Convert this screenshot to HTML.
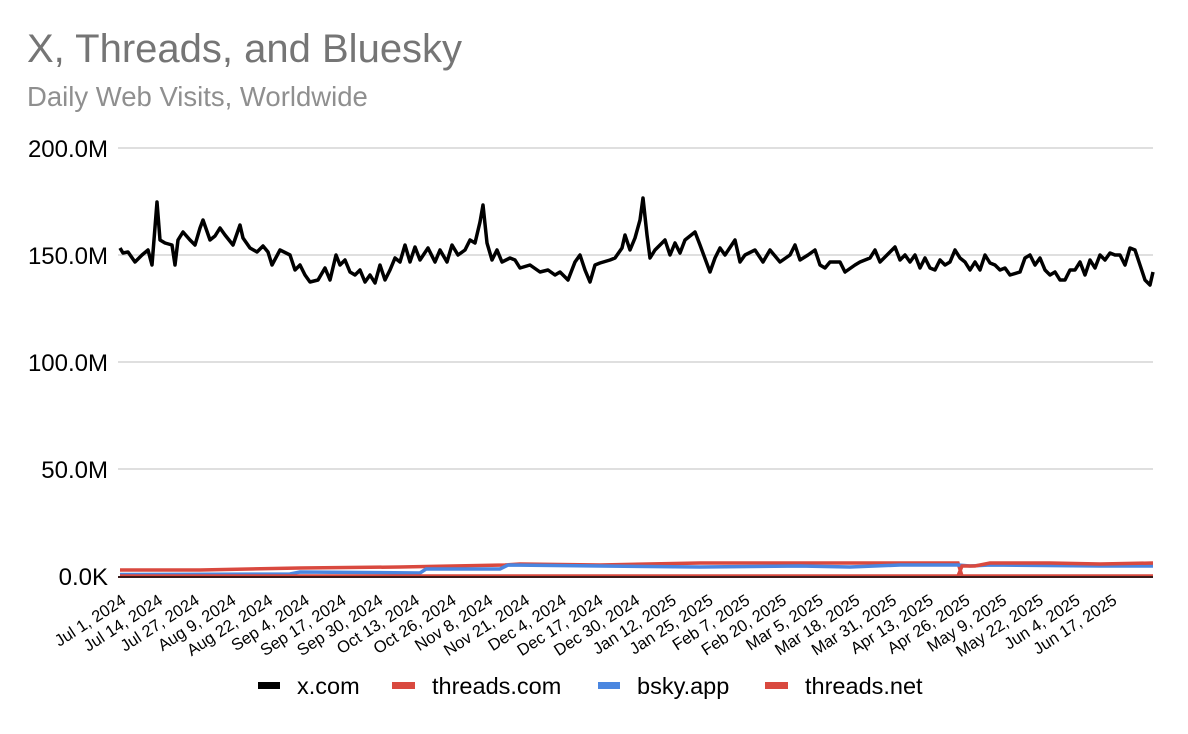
<!DOCTYPE html>
<html><head><meta charset="utf-8"><style>
html,body{margin:0;padding:0;background:#fff;}
svg{display:block;font-family:"Liberation Sans",Arial,sans-serif;}
</style></head><body>
<svg width="1188" height="734" viewBox="0 0 1188 734">
<text x="27" y="62" font-size="40" fill="#757575">X, Threads, and Bluesky</text>
<text x="27" y="106" font-size="27.5" fill="#8f8f8f">Daily Web Visits, Worldwide</text>
<g stroke="#cccccc" stroke-width="1.3">
<line x1="118" y1="148" x2="1153" y2="148"/>
<line x1="118" y1="255" x2="1153" y2="255"/>
<line x1="118" y1="362" x2="1153" y2="362"/>
<line x1="118" y1="469" x2="1153" y2="469"/>
</g>
<g font-size="24" fill="#000" text-anchor="end">
<text x="108" y="157">200.0M</text>
<text x="108" y="264">150.0M</text>
<text x="108" y="371">100.0M</text>
<text x="108" y="478">50.0M</text>
<text x="108" y="585">0.0K</text>
</g>
<!-- threads.net -->
<polyline fill="none" stroke="#d9493f" stroke-width="3.5" points="120,570 200,570 300,568 400,567 505,565 520,564 600,565 700,563 800,563 900,563 958,563 962,576 1153,576"/>
<!-- bsky -->
<polyline fill="none" stroke="#4a86e0" stroke-width="3.5" points="120,574.5 290,574 300,572 420,573 426,569 500,569 508,565 600,566 700,567 800,566 850,567 900,565 958,565 970,566 990,565 1100,566 1153,566"/>
<!-- threads.com -->
<polyline fill="none" stroke="#d9493f" stroke-width="3.5" points="120,576 958,576 962,566 975,566 990,563 1050,563 1100,564 1153,563"/>
<line x1="118" y1="577" x2="1153" y2="577" stroke="#3a1a1a" stroke-width="2"/>
<!-- x.com -->
<polyline fill="none" stroke="#000" stroke-width="3.5" stroke-linejoin="round" points="120,248 123,253 128,252 135,262 142,255 148,250 152,265 157,202 160,240 165,243 172,245 175,265 178,240 183,232 190,240 195,245 200,228 203,220 210,240 215,236 220,228 225,235 233,245 240,225 243,238 250,248 257,252 263,246 268,252 272,265 280,250 290,255 295,270 300,265 305,275 310,282 318,280 325,268 330,280 336,255 340,265 345,260 350,272 355,275 360,270 365,282 370,275 375,283 380,265 385,280 390,270 395,258 400,262 405,245 410,262 415,247 420,260 428,248 435,262 440,250 447,262 452,245 458,255 465,250 470,240 475,243 480,222 483,205 487,243 492,260 497,250 502,262 510,258 515,260 520,268 530,265 540,272 548,270 555,275 560,272 568,280 575,262 580,255 585,270 590,282 595,265 600,263 610,260 615,258 622,248 625,235 630,250 635,238 640,220 643,198 647,235 650,258 655,250 660,245 665,240 670,255 675,243 680,253 685,240 695,232 700,245 710,272 715,258 720,248 725,255 735,240 740,262 745,255 755,250 763,262 770,250 780,262 790,255 795,245 800,260 808,255 815,250 820,265 825,268 830,262 840,262 845,272 855,265 860,262 870,258 875,250 880,262 890,252 895,247 900,260 905,255 910,262 915,255 920,268 925,258 930,268 935,270 940,260 945,265 950,262 955,250 960,258 965,262 970,270 975,262 980,270 985,255 990,263 995,265 1000,270 1005,268 1010,275 1020,272 1025,258 1030,255 1035,265 1040,258 1045,270 1050,275 1055,272 1060,280 1065,280 1070,270 1075,270 1080,262 1085,275 1090,260 1095,268 1100,255 1105,260 1110,253 1115,255 1120,255 1125,265 1130,248 1135,250 1140,265 1145,280 1150,285 1153,272"/>
<g font-size="16.5" fill="#000" text-anchor="end">
<text transform="translate(127,603) rotate(-33)">Jul 1, 2024</text>
<text transform="translate(163.7,603) rotate(-33)">Jul 14, 2024</text>
<text transform="translate(200.4,603) rotate(-33)">Jul 27, 2024</text>
<text transform="translate(237.1,603) rotate(-33)">Aug 9, 2024</text>
<text transform="translate(273.8,603) rotate(-33)">Aug 22, 2024</text>
<text transform="translate(310.5,603) rotate(-33)">Sep 4, 2024</text>
<text transform="translate(347.2,603) rotate(-33)">Sep 17, 2024</text>
<text transform="translate(383.9,603) rotate(-33)">Sep 30, 2024</text>
<text transform="translate(420.6,603) rotate(-33)">Oct 13, 2024</text>
<text transform="translate(457.3,603) rotate(-33)">Oct 26, 2024</text>
<text transform="translate(494,603) rotate(-33)">Nov 8, 2024</text>
<text transform="translate(530.7,603) rotate(-33)">Nov 21, 2024</text>
<text transform="translate(567.4,603) rotate(-33)">Dec 4, 2024</text>
<text transform="translate(604.1,603) rotate(-33)">Dec 17, 2024</text>
<text transform="translate(640.8,603) rotate(-33)">Dec 30, 2024</text>
<text transform="translate(677.5,603) rotate(-33)">Jan 12, 2025</text>
<text transform="translate(714.2,603) rotate(-33)">Jan 25, 2025</text>
<text transform="translate(750.9,603) rotate(-33)">Feb 7, 2025</text>
<text transform="translate(787.6,603) rotate(-33)">Feb 20, 2025</text>
<text transform="translate(824.3,603) rotate(-33)">Mar 5, 2025</text>
<text transform="translate(861,603) rotate(-33)">Mar 18, 2025</text>
<text transform="translate(897.7,603) rotate(-33)">Mar 31, 2025</text>
<text transform="translate(934.4,603) rotate(-33)">Apr 13, 2025</text>
<text transform="translate(971.1,603) rotate(-33)">Apr 26, 2025</text>
<text transform="translate(1007.8,603) rotate(-33)">May 9, 2025</text>
<text transform="translate(1044.5,603) rotate(-33)">May 22, 2025</text>
<text transform="translate(1081.2,603) rotate(-33)">Jun 4, 2025</text>
<text transform="translate(1117.9,603) rotate(-33)">Jun 17, 2025</text>
</g>
<g font-size="23.5" fill="#000">
<rect x="258" y="682" width="22" height="7" fill="#000"/><text x="297" y="694">x.com</text>
<rect x="392" y="682" width="23" height="7" fill="#d9493f"/><text x="432" y="694">threads.com</text>
<rect x="598" y="682" width="22" height="7" fill="#4a86e0"/><text x="637" y="694">bsky.app</text>
<rect x="765" y="682" width="23" height="7" fill="#d9493f"/><text x="805" y="694">threads.net</text>
</g>
</svg>
</body></html>
